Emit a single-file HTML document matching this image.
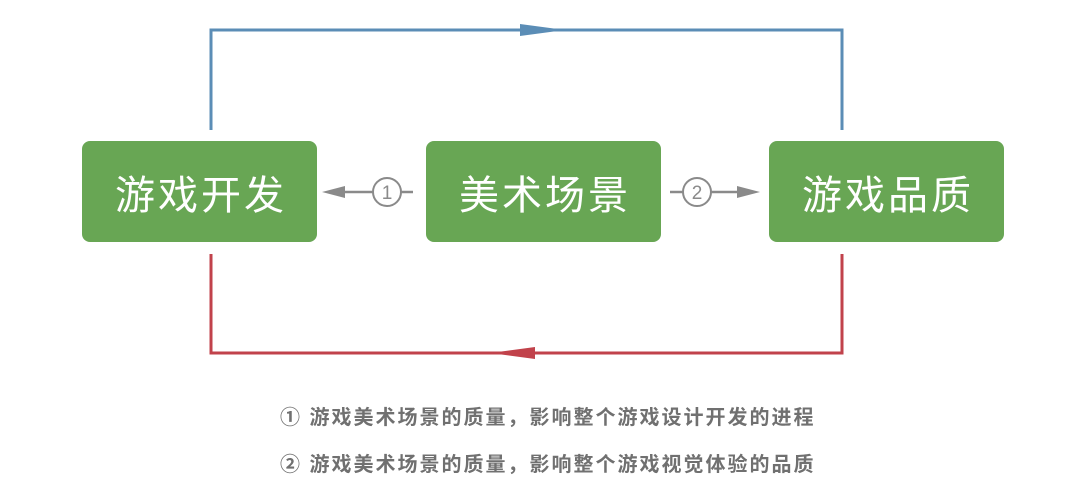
<!DOCTYPE html>
<html><head><meta charset="utf-8"><style>
body{margin:0;background:#fff;width:1080px;height:482px;overflow:hidden;position:relative;font-family:"Liberation Sans","Noto Sans CJK SC",sans-serif}
.b{position:absolute;top:141px;width:235px;height:101px;background:#68a654;border-radius:8px;color:#fff;font-size:40px;display:flex;align-items:center;justify-content:center;letter-spacing:3px;padding-left:3px;box-sizing:border-box}
.t{position:absolute;left:280px;font-size:20px;color:#707070;letter-spacing:2px;font-weight:bold;white-space:nowrap}
</style></head><body>
<svg width="1080" height="482" style="position:absolute;left:0;top:0">
<polyline points="211,130 211,30 842,30 842,130" fill="none" stroke="#5b8db6" stroke-width="3"/>
<polygon points="520,24 565,30 520,36" fill="#5b8db6"/>
<polyline points="211,254 211,353 842,353 842,254" fill="none" stroke="#c1424b" stroke-width="3"/>
<polygon points="535,347 490,353 535,359" fill="#c1424b"/>
<g stroke="#8a8a8a" stroke-width="2.5" fill="none">
<line x1="340" y1="192" x2="373" y2="192"/><line x1="401" y1="192" x2="413" y2="192"/>
<circle cx="387" cy="192" r="14" stroke-width="2"/>
<line x1="670" y1="192" x2="683" y2="192"/><line x1="711" y1="192" x2="742" y2="192"/>
<circle cx="697" cy="192" r="14" stroke-width="2"/>
</g>
<polygon points="345,186 322,192 345,198" fill="#8a8a8a"/>
<polygon points="737,186 760,192 737,198" fill="#8a8a8a"/>
<text x="387" y="199" font-size="19" fill="#8a8a8a" text-anchor="middle" font-family="Liberation Sans">1</text>
<text x="697" y="199" font-size="19" fill="#8a8a8a" text-anchor="middle" font-family="Liberation Sans">2</text>
</svg>
<div class="b" style="left:82px">游戏开发</div>
<div class="b" style="left:426px">美术场景</div>
<div class="b" style="left:769px">游戏品质</div>
<div class="t" style="top:401px">① 游戏美术场景的质量，影响整个游戏设计开发的进程</div>
<div class="t" style="top:448px">② 游戏美术场景的质量，影响整个游戏视觉体验的品质</div>
</body></html>
